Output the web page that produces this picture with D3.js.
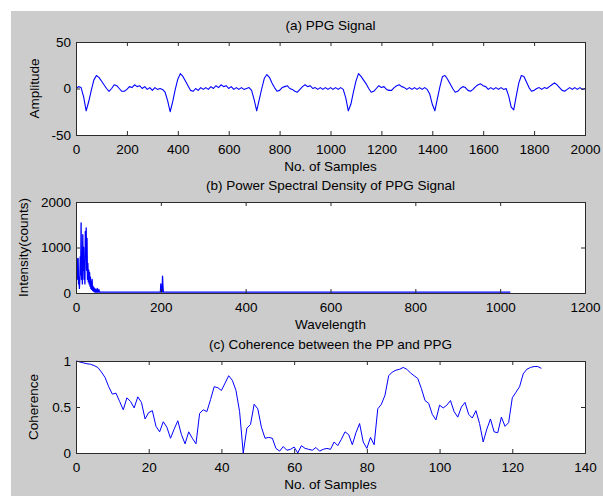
<!DOCTYPE html>
<html><head><meta charset="utf-8">
<script src="https://cdn.jsdelivr.net/npm/d3@7"></script>
<style>
body{margin:0;background:#fff}
svg{display:block}
text{font-family:"Liberation Sans",Arial,sans-serif;}
</style>
</head><body>
<svg id="chart" width="603" height="496"></svg>
<script>
// ---------- DATA ----------
// (a) PPG signal, one value every 10 samples (0..2000)
const ppgStep = 10;
const ppgValues = [
 0,2,1,-9,-24,-14,-2,9,14,12, 8,4,0,-3,0,4,3,0,-3,-3,
 -1,2,1,4,2,3,0,2,-1,1, -2,1,-1,0,-1,-4,-13,-25,-14,-1,
 10,16,13,8,3,-2,-3,0,-2,1, -1,1,-1,2,0,3,1,4,2,3,
 0,2,-1,1,-1,1,-1,0,1,-2, -12,-24,-12,0,11,15,12,6,1,-3,
 -2,1,2,3,0,-1,-3,-4,-1,2, 4,2,3,0,1,-1,1,-1,1,-1,
 1,-1,1,-1,1,-1,-10,-24,-17,-4, 8,16,13,9,5,0,-4,-3,0,3,
 1,2,-1,-2,-2,1,3,4,2,1, -1,1,-1,1,-1,1,-1,1,-1,-6,
 -17,-24,-11,2,13,14,10,5,0,-4, -3,0,2,1,-2,-3,-1,2,4,5,
 3,2,-1,1,-1,1,-1,1,-1,0, -8,-20,-23,-8,6,14,13,7,1,-3,
 -2,0,1,-1,1,0,2,4,6,4, 1,-2,-3,-1,1,-1,1,-1,1,-1,
 0
];
const ppgXTicks = [0,200,400,600,800,1000,1200,1400,1600,1800,2000];
const ppgYTicks = [-50,0,50];

// (b) power spectral density: bins and values
const psdBins = [
 0,1,2,3,4,5,6,7,8,9,10,11,12,13,14,15,16,17,18,19,
 20,21,22,23,24,25,26,27,28,29,30,31,32,33,34,35,36,37,38,39,
 40,41,42,43,44,45,46,47,48,49,50,51,52,53,54,55,56,57,
 199,200,201,202,203,204,205,206,1024
];
const psdValues = [
 0,740,600,750,300,760,200,350,100,300,800,400,1540,300,900,200,1280,500,1000,300,
 600,200,1350,800,1430,500,1200,300,650,250,500,200,450,150,350,100,250,80,300,60,
 150,40,120,30,100,20,80,20,60,20,100,20,40,20,80,20,30,20,
 20,200,40,60,20,370,150,20,20
];
const psdXTicks = [0,200,400,600,800,1000,1200];
const psdYTicks = [0,1000,2000];

// (c) coherence, index 0..128
const cohValues = [
 1.00,0.99,0.98,0.97,0.965,0.95,0.93,0.88,0.82,0.72,
 0.64,0.65,0.56,0.47,0.60,0.56,0.49,0.61,0.55,0.37,
 0.44,0.46,0.29,0.23,0.34,0.28,0.16,0.26,0.35,0.20,
 0.10,0.23,0.16,0.10,0.43,0.47,0.45,0.58,0.72,0.71,
 0.68,0.76,0.84,0.79,0.68,0.45,0.00,0.27,0.31,0.53,
 0.48,0.28,0.16,0.17,0.16,0.05,0.02,0.07,0.03,0.04,
 0.065,0.00,0.08,0.05,0.04,0.03,0.06,0.02,0.04,0.05,
 0.04,0.12,0.08,0.15,0.23,0.20,0.09,0.22,0.32,0.12,
 0.05,0.17,0.09,0.48,0.53,0.63,0.84,0.88,0.90,0.91,
 0.93,0.91,0.87,0.84,0.81,0.70,0.57,0.54,0.42,0.36,
 0.52,0.49,0.52,0.57,0.45,0.39,0.50,0.55,0.42,0.38,
 0.46,0.32,0.12,0.26,0.37,0.23,0.22,0.39,0.29,0.33,
 0.60,0.66,0.72,0.86,0.91,0.93,0.94,0.94,0.92
];
const cohXTicks = [0,20,40,60,80,100,120,140];
const cohYTicks = [0,0.5,1];

// ---------- DRAW ----------
const svg = d3.select("#chart");
svg.append("rect").attr("x",11).attr("y",11).attr("width",603-11).attr("height",496-11).attr("fill","#cccccc");

const L = 76, R = 585, FS = 13.5;
const boxColor = "#2b2b2b";

function panel(o){
  const x = d3.scaleLinear().domain(o.xDomain).range([L,R]);
  const y = d3.scaleLinear().domain(o.yDomain).range([o.bottom,o.top]);
  const g = svg.append("g");
  g.append("rect").attr("x",L+0.5).attr("y",o.top+0.5)
    .attr("width",R-L).attr("height",o.bottom-o.top)
    .attr("fill","#fff").attr("stroke","none");
  const clipId = "clip"+o.id;
  svg.append("clipPath").attr("id",clipId).append("rect")
    .attr("x",L).attr("y",o.top-1).attr("width",R-L+1).attr("height",o.bottom-o.top+2);
  g.append("path").datum(o.data)
    .attr("clip-path","url(#"+clipId+")")
    .attr("fill","none").attr("stroke","#0000ff").attr("stroke-width",o.lw||1)
    .attr("stroke-linejoin","round")
    .attr("d", d3.line().x(d=>x(d[0])).y(d=>y(d[1])));
  const fmt = o.fmt || (d=>String(d));
  function style(a){
    a.attr("font-size",FS).attr("font-family",'"Liberation Sans",Arial,sans-serif').attr("color",boxColor);
    a.select(".domain").remove();
    a.selectAll("text").attr("fill","#000");
  }
  g.append("g").attr("transform",`translate(0,${o.bottom})`)
    .call(d3.axisBottom(x).tickValues(o.xTicks).tickFormat(fmt).tickSizeInner(-4).tickSizeOuter(0).tickPadding(9)).call(style);
  g.append("g").attr("transform",`translate(0,${o.top})`)
    .call(d3.axisTop(x).tickValues(o.xTicks).tickFormat("").tickSizeInner(-4).tickSizeOuter(0)).call(style);
  g.append("g").attr("transform",`translate(${L},0)`)
    .call(d3.axisLeft(y).tickValues(o.yTicks).tickFormat(fmt).tickSizeInner(-4).tickSizeOuter(0).tickPadding(5)).call(style);
  g.append("g").attr("transform",`translate(${R},0)`)
    .call(d3.axisRight(y).tickValues(o.yTicks).tickFormat("").tickSizeInner(-4).tickSizeOuter(0)).call(style);
  g.append("rect").attr("x",L+0.5).attr("y",o.top+0.5)
    .attr("width",R-L).attr("height",o.bottom-o.top)
    .attr("fill","none").attr("stroke",boxColor).attr("stroke-width",1);
  const cx = (L+R)/2;
  g.append("text").attr("x",cx).attr("y",o.top-12).attr("text-anchor","middle")
    .attr("font-size",FS).attr("fill","#000").text(o.title);
  g.append("text").attr("x",cx).attr("y",o.bottom+36).attr("text-anchor","middle")
    .attr("font-size",FS).attr("fill","#000").text(o.xlabel);
  const cy = (o.top+o.bottom)/2;
  g.append("text").attr("transform",`translate(${o.ylx},${cy}) rotate(-90)`)
    .attr("text-anchor","middle").attr("font-size",FS).attr("fill","#000").text(o.ylabel);
}

panel({id:"a", top:42, bottom:135, xDomain:[0,2000], yDomain:[-50,50],
  xTicks:ppgXTicks, yTicks:ppgYTicks,
  data: ppgValues.map((v,i)=>[i*ppgStep, v]), lw:1.1,
  title:"(a) PPG Signal", xlabel:"No. of Samples", ylabel:"Amplitude", ylx:39});

panel({id:"b", top:202, bottom:293, xDomain:[0,1200], yDomain:[0,2000],
  xTicks:psdXTicks, yTicks:psdYTicks,
  data: psdBins.map((b,i)=>[b, psdValues[i]]), lw:1.3,
  title:"(b) Power Spectral Density of PPG Signal", xlabel:"Wavelength", ylabel:"Intensity(counts)", ylx:28});

panel({id:"c", top:361, bottom:453, xDomain:[0,140], yDomain:[0,1],
  xTicks:cohXTicks, yTicks:cohYTicks,
  data: cohValues.map((v,i)=>[i, v]),
  title:"(c) Coherence between the PP and PPG", xlabel:"No. of Samples", ylabel:"Coherence", ylx:38});
</script>
</body></html>
